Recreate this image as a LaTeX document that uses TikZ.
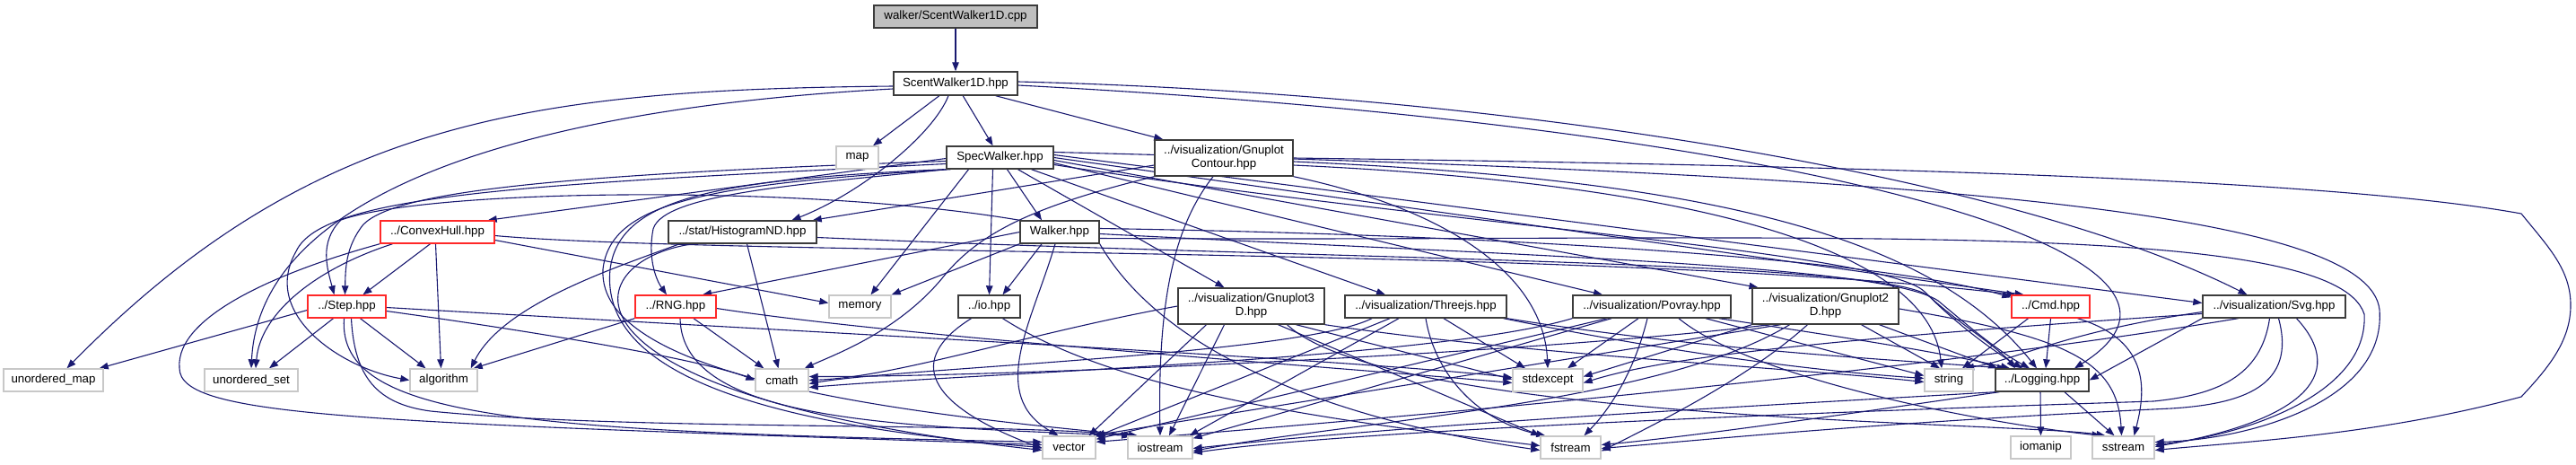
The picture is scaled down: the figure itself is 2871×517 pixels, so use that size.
\documentclass[tikz,border=0pt]{standalone}
\usepackage{fontspec}
\setmainfont{Liberation Sans}
\usetikzlibrary{arrows.meta}
\pgfdeclarelayer{bg}
\pgfsetlayers{bg,main}
\definecolor{edgec}{RGB}{25,25,112}
\definecolor{sysb}{RGB}{200,200,200}
\definecolor{docb}{RGB}{60,60,60}
\definecolor{redb}{RGB}{255,40,40}
\definecolor{rootf}{RGB}{191,191,191}
\begin{document}
\begin{tikzpicture}[x=1pt,y=-1pt,
  box/.style={draw=docb,line width=1.4pt,inner sep=0pt,align=center,fill=white,
     font=\fontsize{13.3}{15}\selectfont,minimum height=25pt},
  sysbox/.style={box,draw=sysb},
  redbox/.style={box,draw=redb},
  e/.style={draw=edgec,line width=1.1pt,-{Triangle[length=10pt,width=7.5pt]}}
]
\useasboundingbox (0,0) rectangle (2871,517);
% nodes
\node[box,fill=rootf,minimum width=182pt] (cpp) at (1065,18.5) {walker/ScentWalker1D.cpp};
\node[box,minimum width=138pt,minimum height=26pt] (swh) at (1065,93) {ScentWalker1D.hpp};
\node[sysbox,minimum width=47pt] (map) at (955.5,175.5) {map};
\node[box,minimum width=119pt] (spec) at (1114.5,175.5) {SpecWalker.hpp};
\node[box,minimum width=154pt,minimum height=40pt] (gcont) at (1364,176) {../visualization/Gnuplot\\Contour.hpp};
\node[box,minimum width=165pt] (hist) at (827.5,258.5) {../stat/HistogramND.hpp};
\node[redbox,minimum width=127pt] (chull) at (487.5,258.5) {../ConvexHull.hpp};
\node[box,minimum width=88pt] (walker) at (1181,258.5) {Walker.hpp};
\node[redbox,minimum width=87pt] (step) at (386.5,341.5) {../Step.hpp};
\node[redbox,minimum width=90pt] (rng) at (753,341.5) {../RNG.hpp};
\node[sysbox,minimum width=69pt] (memory) at (958.5,341.5) {memory};
\node[box,minimum width=69pt] (io) at (1102.5,341.5) {../io.hpp};
\node[box,minimum width=163pt,minimum height=40pt] (g3d) at (1394.5,341) {../visualization/Gnuplot3\\D.hpp};
\node[box,minimum width=180pt] (three) at (1589,341.5) {../visualization/Threejs.hpp};
\node[box,minimum width=176pt] (povray) at (1841,341.5) {../visualization/Povray.hpp};
\node[box,minimum width=163pt,minimum height=40pt] (g2d) at (2034.5,341) {../visualization/Gnuplot2\\D.hpp};
\node[redbox,minimum width=87pt] (cmd) at (2285.5,341.5) {../Cmd.hpp};
\node[box,minimum width=159pt] (svg) at (2534.5,341.5) {../visualization/Svg.hpp};
\node[sysbox,minimum width=111pt] (umap) at (59.5,423.5) {unordered\_map};
\node[sysbox,minimum width=104pt] (uset) at (280,423.5) {unordered\_set};
\node[sysbox,minimum width=75pt] (algo) at (494.5,423.5) {algorithm};
\node[sysbox,minimum width=59pt] (cmath) at (871.5,423.5) {cmath};
\node[sysbox,minimum width=78pt] (stdexc) at (1725,423.5) {stdexcept};
\node[sysbox,minimum width=54pt] (string) at (2172,423.5) {string};
\node[box,minimum width=104pt] (log) at (2276,423.5) {../Logging.hpp};
\node[sysbox,minimum width=59pt] (vector) at (1191.5,498.5) {vector};
\node[sysbox,minimum width=72pt] (iostream) at (1293,498.5) {iostream};
\node[sysbox,minimum width=67pt] (fstream) at (1750.5,498.5) {fstream};
\node[sysbox,minimum width=67pt] (iomanip) at (2274.5,498.5) {iomanip};
\node[sysbox,minimum width=69pt] (sstream) at (2366.5,498.5) {sstream};
% way points of the long loops
\coordinate (loopA) at (2810,238);
\coordinate (loopR) at (2865,340);
\coordinate (loopB) at (2810,442);
\coordinate (loopS) at (2652,345);
\coordinate (loopT) at (2635,350);

\begin{pgfonlayer}{bg}
% root
\draw[e] (cpp) -- (swh);
% ScentWalker1D.hpp
\draw[e] (swh) -- (map);
\draw[e] (swh) -- (spec);
\draw[e] ([xshift=-25pt]swh.south east) -- ([xshift=10pt]gcont.north west);
\draw[e] ([xshift=-8pt]swh.south) .. controls (1040,150) and (960,215) .. ([xshift=55pt]hist.north);
\draw[e] ([yshift=-3pt]swh.west) .. controls (600,100) and (350,130) .. ([xshift=15pt]umap.north);
\draw[e] ([yshift=-6pt]swh.west) .. controls (600,120) and (290,210) .. (uset.north);
\draw[e] ([yshift=2pt]swh.east) .. controls (1700,105) and (2250,200) .. ([xshift=-30pt]svg.north);
\draw[e] ([yshift=-2pt]swh.east) .. controls (2000,140) and (2520,280) .. ([xshift=36pt]log.north);
% SpecWalker.hpp
\draw[e] ([yshift=-4pt]spec.west) .. controls (600,195) and (440,215) .. (405,250) .. controls (385,275) and (385,300) .. ([xshift=-2pt]step.north);
\draw[e] ([yshift=-1pt]spec.west) -- ([xshift=-8pt]chull.north east);
\draw[e] ([yshift=-7pt]spec.west) .. controls (600,205) and (360,215) .. (330,280) .. controls (290,350) and (380,410) .. (algo.west);
\draw[e] (spec.south west) .. controls (900,205) and (740,215) .. (728,255) .. controls (722,285) and (730,310) .. ([xshift=-10pt]rng.north);
\draw[e] ([xshift=-35pt]spec.south) -- ([xshift=12pt]memory.north);
\draw[e] ([xshift=-8pt]spec.south) -- (io.north);
\draw[e] ([xshift=8pt]spec.south) -- ([xshift=-20pt]walker.north);
\draw[e] ([xshift=20pt]spec.south) -- ([xshift=-30pt]g3d.north);
\draw[e] ([xshift=35pt]spec.south) -- ([xshift=-45pt]three.north);
\draw[e] ([yshift=-6pt]spec.east) -- ([xshift=-55pt]povray.north);
\draw[e] ([yshift=-3pt]spec.east) -- ([xshift=-75pt]g2d.north);
\draw[e] (spec.east) -- ([xshift=-30pt]cmd.north);
\draw[e] ([yshift=3pt]spec.east) -- ([yshift=4pt]svg.west);
\draw[e] ([yshift=-8pt]spec.east) .. controls (1600,250) and (2100,280) .. (2145,325) .. controls (2175,355) and (2225,385) .. ([xshift=-30pt]log.north);
\draw[e] ([xshift=-2pt]spec.south west) .. controls (800,200) and (690,220) .. (680,300) .. controls (670,400) and (800,470) .. (vector.west);
\draw[e] ([xshift=5pt]spec.south west) .. controls (790,205) and (680,225) .. (672,300) .. controls (665,420) and (1000,460) .. ([xshift=-25pt]iostream.north);
\draw[e] ([yshift=6pt]spec.east) .. controls (2200,195) and (2640,240) .. (loopS) .. controls (2660,450) and (2500,490) .. ([yshift=6pt]sstream.east);
% GnuplotContour
\draw[e] ([yshift=-8pt]gcont.west) -- ([xshift=-5pt]hist.north east);
\draw[e] (gcont.south west) .. controls (1150,230) and (1090,260) .. (1050,310) .. controls (1000,370) and (930,395) .. ([xshift=-5pt]cmath.north east);
\draw[e] ([xshift=-12pt]gcont.south) .. controls (1310,250) and (1290,330) .. (iostream.north);
\draw[e] (gcont.south east) .. controls (1600,230) and (1720,300) .. (stdexc.north);
\draw[e] (gcont.east) .. controls (2100,185) and (2600,200) .. (loopA) .. controls (2840,275) and (2865,300) .. (loopR) .. controls (2865,380) and (2840,410) .. (loopB) .. controls (2650,485) and (2500,492) .. ([yshift=-3pt]sstream.east);
\draw[e] ([yshift=-4pt]gcont.east) .. controls (1900,200) and (2150,260) .. ([xshift=-6pt]log.north);
\draw[e] ([yshift=-8pt]gcont.east) .. controls (1900,205) and (2150,280) .. ([xshift=-8pt]string.north);
% ConvexHull
\draw[e] ([xshift=-8pt]chull.south) -- ([xshift=18pt]step.north);
\draw[e] ([xshift=-50pt]chull.south) .. controls (350,300) and (290,350) .. ([xshift=5pt]uset.north);
\draw[e] ([xshift=-2pt]chull.south) -- ([xshift=-3pt]algo.north);
\draw[e] ([yshift=-9pt]chull.east) -- ([yshift=4pt]memory.west);
\draw[e] (chull.south west) .. controls (320,300) and (195,350) .. (200,410) .. controls (200,465) and (400,470) .. ([yshift=3pt]vector.west);
\draw[e] ([yshift=-4pt]chull.east) .. controls (800,285) and (1800,275) .. ([xshift=5pt]cmd.north west);
% HistogramND
\draw[e] ([xshift=-70pt]hist.south) .. controls (680,300) and (560,340) .. ([xshift=-8pt]algo.north east);
\draw[e] ([xshift=5pt]hist.south) -- ([xshift=-4pt]cmath.north);
\draw[e] ([xshift=-55pt]hist.south) .. controls (640,290) and (600,440) .. ([yshift=-3pt]vector.west);
\draw[e] ([yshift=-6pt]hist.east) .. controls (1500,290) and (2100,290) .. (2150,330) .. controls (2180,360) and (2220,390) .. ([xshift=-22pt]log.north);
% Walker
\draw[e] (walker.west) -- ([xshift=30pt]rng.north);
\draw[e] (walker.south west) -- (memory.north east);
\draw[e] ([xshift=-20pt]walker.south) -- ([xshift=15pt]io.north);
\draw[e] ([xshift=-5pt]walker.south) .. controls (1150,360) and (1100,440) .. ([xshift=-12pt]vector.north);
\draw[e] (walker.south east) .. controls (1300,400) and (1500,470) .. ([yshift=-3pt]fstream.west);
\draw[e] ([yshift=4pt]walker.east) .. controls (1700,262) and (2100,290) .. ([yshift=-3pt]cmd.north west);
\draw[e] ([yshift=-2pt]walker.east) .. controls (1700,285) and (2100,295) .. (2160,335) .. controls (2190,360) and (2225,390) .. ([xshift=-14pt]log.north);
\draw[e] ([yshift=-7pt]walker.east) .. controls (2000,270) and (2600,240) .. (loopT) .. controls (2640,440) and (2500,485) .. ([yshift=3pt]sstream.east);
\draw[e] (walker.north west) .. controls (900,205) and (480,210) .. (380,245) .. controls (355,270) and (365,300) .. ([xshift=-14pt]step.north);
% Step
\draw[e] ([yshift=-4pt]step.west) -- ([xshift=-5pt]umap.north east);
\draw[e] ([xshift=-15pt]step.south) -- ([xshift=20pt]uset.north);
\draw[e] ([xshift=15pt]step.south) -- ([xshift=-20pt]algo.north);
\draw[e] ([yshift=-5pt]step.east) .. controls (600,370) and (780,400) .. (cmath.west);
\draw[e] ([xshift=-3pt]step.south) .. controls (375,470) and (600,480) .. ([yshift=6pt]vector.west);
\draw[e] ([xshift=5pt]step.south) .. controls (395,420) and (420,450) .. (480,458) .. controls (700,480) and (1100,470) .. ([xshift=-30pt]iostream.north);
\draw[e] ([yshift=-1pt]step.east) .. controls (900,370) and (1500,400) .. ([yshift=3pt]stdexc.west);
% RNG
\draw[e] (rng.south west) -- ([xshift=-5pt]algo.north east);
\draw[e] ([xshift=20pt]rng.south) -- ([xshift=10pt]cmath.north west);
\draw[e] ([xshift=5pt]rng.south) .. controls (760,470) and (1000,475) .. ([xshift=-33pt]iostream.north);
\draw[e] ([yshift=-2pt]rng.east) .. controls (1000,375) and (1500,410) .. ([yshift=-3pt]stdexc.west);
% io
\draw[e] ([xshift=-20pt]io.south) .. controls (1010,400) and (1030,450) .. ([yshift=-1pt]vector.west);
\draw[e] ([xshift=15pt]io.south) .. controls (1250,440) and (1500,470) .. ([yshift=2pt]fstream.west);
% Gnuplot3D
\draw[e] (g3d.west) .. controls (1150,370) and (1000,420) .. (cmath.east);
\draw[e] ([xshift=-50pt]g3d.south) -- ([xshift=-8pt]vector.north east);
\draw[e] ([xshift=-30pt]g3d.south) -- ([xshift=10pt]iostream.north);
\draw[e] ([xshift=30pt]g3d.south) -- (fstream.north west);
\draw[e] ([xshift=50pt]g3d.south) -- ([yshift=1pt]stdexc.west);
\draw[e] (g3d.south east) .. controls (1700,395) and (2000,410) .. ([yshift=-2pt]string.west);
\draw[e] ([xshift=40pt]g3d.south) .. controls (1550,470) and (2250,470) .. ([xshift=-20pt]sstream.north);
% Threejs
\draw[e] ([xshift=-60pt]three.south) .. controls (1450,395) and (1000,410) .. ([yshift=-4pt]cmath.east);
\draw[e] ([xshift=-40pt]three.south) -- ([yshift=-1pt]vector.north east);
\draw[e] ([xshift=-30pt]three.south) -- ([xshift=-4pt]iostream.north east);
\draw[e] (three.south) .. controls (1600,420) and (1650,470) .. ([xshift=6pt]fstream.north west);
\draw[e] ([xshift=20pt]three.south) -- ([xshift=-25pt]stdexc.north);
\draw[e] (three.south east) .. controls (1900,390) and (2100,400) .. ([xshift=-40pt]log.north);
\draw[e] ([xshift=-4pt]three.south east) .. controls (1900,400) and (2050,415) .. ([yshift=2pt]string.west);
% Povray
\draw[e] (povray.south west) .. controls (1600,400) and (1100,415) .. ([yshift=-8pt]cmath.east);
\draw[e] ([xshift=-15pt]povray.south) -- ([xshift=22pt]stdexc.north);
\draw[e] ([xshift=-50pt]povray.south) -- ([yshift=-4pt]vector.north east);
\draw[e] ([xshift=-45pt]povray.south) -- ([yshift=-3pt]iostream.north east);
\draw[e] ([xshift=-5pt]povray.south) .. controls (1820,420) and (1790,460) .. ([xshift=15pt]fstream.north);
\draw[e] ([xshift=60pt]povray.south) -- ([yshift=5pt]string.west);
\draw[e] ([xshift=75pt]povray.south) .. controls (2050,375) and (2150,390) .. ([xshift=-36pt]log.north);
\draw[e] ([xshift=30pt]povray.south) .. controls (1950,420) and (2200,470) .. ([xshift=-25pt]sstream.north);
% Gnuplot2D
\draw[e] (g2d.south west) -- ([yshift=4pt]stdexc.east);
\draw[e] ([xshift=20pt]g2d.south west) .. controls (1700,395) and (1100,420) .. ([yshift=4pt]cmath.east);
\draw[e] ([xshift=-50pt]g2d.south) -- ([xshift=-4pt]vector.north east);
\draw[e] ([xshift=-40pt]g2d.south) .. controls (1850,450) and (1500,470) .. ([yshift=-4pt]iostream.east);
\draw[e] ([xshift=-20pt]g2d.south) .. controls (1950,420) and (1850,470) .. ([yshift=-4pt]fstream.east);
\draw[e] ([xshift=40pt]g2d.south) -- ([xshift=-10pt]string.north);
\draw[e] ([xshift=60pt]g2d.south) -- ([xshift=3pt]log.north west);
\draw[e] ([yshift=-3pt]g2d.east) .. controls (2300,375) and (2360,400) .. ([xshift=-2pt]sstream.north);
% Cmd
\draw[e] ([xshift=-25pt]cmd.south) -- ([xshift=15pt]string.north);
\draw[e] (cmd.south) -- ([xshift=4pt]log.north);
\draw[e] ([xshift=30pt]cmd.south) .. controls (2400,380) and (2390,440) .. ([xshift=12pt]sstream.north);
% Svg
\draw[e] (svg.south west) -- (log.east);
\draw[e] ([yshift=-6pt]svg.west) .. controls (2300,370) and (2250,400) .. ([xshift=18pt]string.north);
\draw[e] ([yshift=-8pt]svg.west) .. controls (2000,380) and (1850,400) .. ([yshift=-3pt]stdexc.east);
\draw[e] ([xshift=-40pt]svg.south) .. controls (2100,420) and (1500,470) .. ([yshift=-7pt]vector.north east);
\draw[e] ([xshift=-5pt]svg.south) .. controls (2520,420) and (2470,440) .. (2400,447) .. controls (2000,460) and (1500,480) .. ([yshift=-6pt]iostream.east);
\draw[e] ([xshift=5pt]svg.south) .. controls (2560,430) and (2500,450) .. (2420,455) .. controls (2100,470) and (1900,490) .. ([yshift=-1pt]fstream.east);
\draw[e] ([xshift=25pt]svg.south) .. controls (2620,420) and (2560,470) .. ([yshift=1pt]sstream.east);
% Logging
\draw[e] ([xshift=-2pt]log.south) -- (iomanip.north);
\draw[e] ([xshift=25pt]log.south) -- ([xshift=-10pt]sstream.north);
\draw[e] (log.south west) .. controls (2000,450) and (1600,470) .. ([yshift=-1pt]iostream.east);
\draw[e] ([xshift=5pt]log.south west) .. controls (2100,455) and (1900,485) .. ([yshift=3pt]fstream.east);
\end{pgfonlayer}
\end{tikzpicture}
\end{document}
